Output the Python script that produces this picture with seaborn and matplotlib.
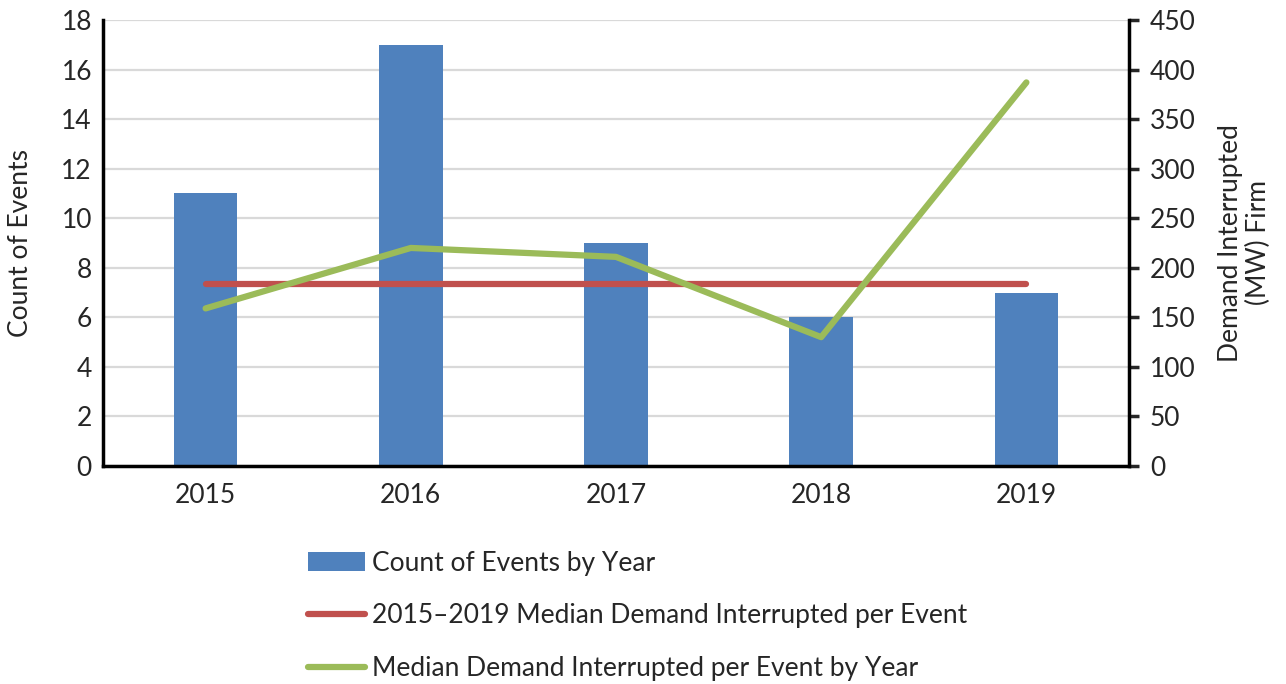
import matplotlib
matplotlib.use('Agg')
import matplotlib.pyplot as plt
from matplotlib.patches import Patch
from matplotlib.lines import Line2D
import seaborn as sns

years = ['2015', '2016', '2017', '2018', '2019']
event_counts = [11, 17, 9, 6, 7]
median_by_year = [159, 220, 211, 130, 387]
median_all = [184, 184, 184, 184, 184]

BLUE = '#4F81BD'
RED = '#C0504D'
GREEN = '#9BBB59'


def main():
    sns.set_style('white')
    plt.rcParams['font.family'] = ['Lato', 'DejaVu Sans']
    fs = 19

    fig = plt.figure(figsize=(12.86, 6.84), dpi=100)
    ax = fig.add_axes([0.0801, 0.3187, 0.7978, 0.6521])

    sns.barplot(x=years, y=event_counts, color=BLUE, saturation=1,
                width=0.31, edgecolor='none', ax=ax, zorder=2)
    ax.set_ylim(0, 18)
    ax.set_yticks(range(0, 19, 2))
    ax.set_xlim(-0.5, 4.5)
    ax.yaxis.grid(True, color='#D9D9D9', linewidth=1.6, zorder=0)
    ax.set_axisbelow(True)

    ax2 = ax.twinx()
    sns.pointplot(x=years, y=median_all, color=RED, markers='', linewidth=4.5,
                  ax=ax2, errorbar=None)
    sns.pointplot(x=years, y=median_by_year, color=GREEN, markers='', linewidth=4.5,
                  ax=ax2, errorbar=None)
    for ln in ax2.lines:
        ln.set_solid_capstyle('round')
        ln.set_solid_joinstyle('round')
    ax2.set_ylim(0, 450)
    ax2.set_yticks(range(0, 451, 50))
    ax2.set_xlim(-0.5, 4.5)

    for a in (ax, ax2):
        a.spines['top'].set_visible(False)
        for side in ('left', 'bottom', 'right'):
            a.spines[side].set_linewidth(2.5)
            a.spines[side].set_color('black')
    ax.spines['right'].set_visible(False)
    ax2.spines['left'].set_visible(False)
    ax2.spines['bottom'].set_visible(False)

    ax.tick_params(axis='both', which='both', length=0, labelsize=fs, pad=12)
    ax.tick_params(axis='y', pad=8)
    ax2.tick_params(axis='y', length=7, width=2.5, direction='out',
                    labelsize=fs, pad=8)
    ax.set_xlabel('')
    ax.set_ylabel('Count of Events', fontsize=fs, labelpad=20)
    ax2.set_ylabel('Demand Interrupted\n(MW) Firm', fontsize=fs, labelpad=16,
                   linespacing=1.15)

    handles = [
        Patch(facecolor=BLUE, edgecolor='none'),
        Line2D([], [], color=RED, linewidth=4.5, solid_capstyle='round'),
        Line2D([], [], color=GREEN, linewidth=4.5, solid_capstyle='round'),
    ]
    labels = [
        'Count of Events by Year',
        '2015\u20132019 Median Demand Interrupted per Event',
        'Median Demand Interrupted per Event by Year',
    ]
    fig.legend(handles, labels, loc='upper left', bbox_to_anchor=(0.2395, 0.195),
               frameon=False, fontsize=fs, handlelength=2.15, handleheight=0.7,
               handletextpad=0.27, labelspacing=1.05, borderpad=0,
               borderaxespad=0)

    fig.savefig('out.png', dpi=100)
    plt.close(fig)


if __name__ == '__main__':
    main()
